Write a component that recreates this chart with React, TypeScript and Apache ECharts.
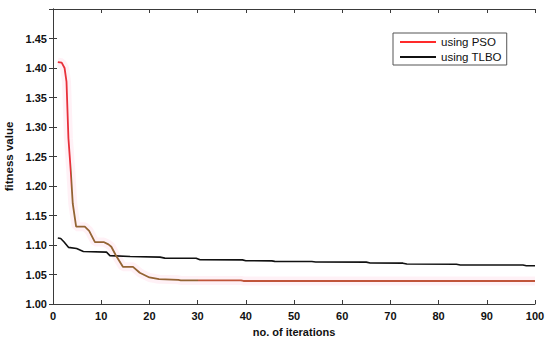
import React, { useEffect, useRef } from "react";
import * as echarts from "echarts";

// PSO convergence: iteration, fitness
const psoIter = [1, 1.8, 2.4, 2.8, 3.2, 3.7, 4.1, 4.8, 6.6, 7.5, 8.7, 10.5, 11.5, 12.1, 13.0, 14.5, 16.6, 18, 20, 22, 26, 26.5, 39, 39.5, 100];
const psoFitness = [1.41, 1.409, 1.4, 1.377, 1.281, 1.224, 1.17, 1.131, 1.131, 1.124, 1.105, 1.105, 1.101, 1.097, 1.083, 1.063, 1.063, 1.053, 1.045, 1.042, 1.041, 1.04, 1.04, 1.039, 1.039];

// TLBO convergence
const tlboIter = [1, 1.6, 2.3, 3.2, 4.9, 6.3, 11.1, 11.8, 16, 22.2, 23.2, 29.7, 30.5, 39.3, 40, 45.4, 46, 53.7, 54.5, 65, 65.8, 72.6, 73.4, 83.7, 84.5, 97.5, 98.2, 100];
const tlboFitness = [1.112, 1.111, 1.105, 1.096, 1.094, 1.089, 1.088, 1.082, 1.0805, 1.0795, 1.0778, 1.0776, 1.075, 1.0748, 1.0733, 1.0731, 1.0722, 1.072, 1.0712, 1.071, 1.0695, 1.0692, 1.0678, 1.0675, 1.0662, 1.066, 1.0648, 1.0648];

const xTicks = { min: 0, max: 100, interval: 10 };
const yTicks = { min: 1.0, max: 1.5, interval: 0.05 };

const seriesNames = ["using PSO", "using TLBO"];

export default function App() {
  const ref = useRef<HTMLDivElement>(null);
  useEffect(() => {
    if (!ref.current) return;
    const chart = echarts.init(ref.current, undefined, { renderer: "svg" });
    const pso = psoIter.map((x, i) => [x, psoFitness[i]]);
    const tlbo = tlboIter.map((x, i) => [x, tlboFitness[i]]);
    const font = "'Liberation Sans', Arial, sans-serif";
    const axisLine = { show: true, lineStyle: { color: "#3a3a3a", width: 1 } };
    const tickInside = { show: true, inside: true, length: 4, lineStyle: { color: "#3a3a3a" } };
    const label = { color: "#111", fontFamily: font, fontWeight: "bold" as const, fontSize: 11 };
    chart.setOption({
      animation: false,
      backgroundColor: "#fff",
      grid: { left: 53, right: 15, top: 9, bottom: 35, outerBoundsMode: "none", containLabel: false },
      legend: {
        data: seriesNames,
        orient: "vertical",
        left: 393,
        top: 33,
        icon: "rect",
        itemWidth: 36,
        itemHeight: 2,
        itemGap: 3,
        padding: [3, 5, 2, 7],
        borderColor: "#555",
        borderWidth: 1,
        textStyle: { fontFamily: font, fontSize: 11.5, color: "#111" },
      },
      visualMap: {
        show: false,
        type: "piecewise",
        seriesIndex: 1,
        dimension: 0,
        pieces: [
          { lt: 3.8, color: "#e8303a" },
          { gte: 3.8, lt: 30, color: "#946433" },
          { gte: 30, color: "#c0553a" },
        ],
      },
      xAxis: [
        {
          type: "value",
          ...xTicks,
          name: "no. of iterations",
          nameLocation: "middle",
          nameGap: 22,
          nameTextStyle: { ...label, fontSize: 11 },
          axisLine,
          axisTick: tickInside,
          axisLabel: { ...label, margin: 6 },
          splitLine: { show: false },
        },
        {
          type: "value",
          position: "top",
          ...xTicks,
          axisLine,
          axisTick: tickInside,
          axisLabel: { show: false },
          splitLine: { show: false },
        },
      ],
      yAxis: [
        {
          type: "value",
          ...yTicks,
          name: "fitness value",
          nameLocation: "middle",
          nameGap: 37,
          nameTextStyle: { ...label, fontSize: 11.5 },
          axisLine,
          axisTick: tickInside,
          axisLabel: { ...label, margin: 6, showMaxLabel: false, formatter: (v: number) => v.toFixed(2) },
          splitLine: { show: false },
        },
        {
          type: "value",
          position: "right",
          ...yTicks,
          axisLine,
          axisTick: tickInside,
          axisLabel: { show: false },
          splitLine: { show: false },
        },
      ],
      series: [
        {
          name: "psoGlow",
          type: "line",
          data: pso,
          symbol: "none",
          silent: true,
          lineStyle: { width: 9, color: "rgba(255,170,200,0.16)" },
          z: 1,
        },
        {
          name: seriesNames[0],
          type: "line",
          data: pso,
          symbol: "none",
          lineStyle: { width: 1.8 },
          itemStyle: { color: "#ff2a2a" },
          z: 3,
        },
        {
          name: seriesNames[1],
          type: "line",
          data: tlbo,
          symbol: "none",
          lineStyle: { width: 1.6 },
          itemStyle: { color: "#111" },
          z: 2,
        },
      ],
    });
    return () => chart.dispose();
  }, []);
  return <div ref={ref} style={{ position: "fixed", left: 0, top: 0, width: 550, height: 339 }} />;
}
